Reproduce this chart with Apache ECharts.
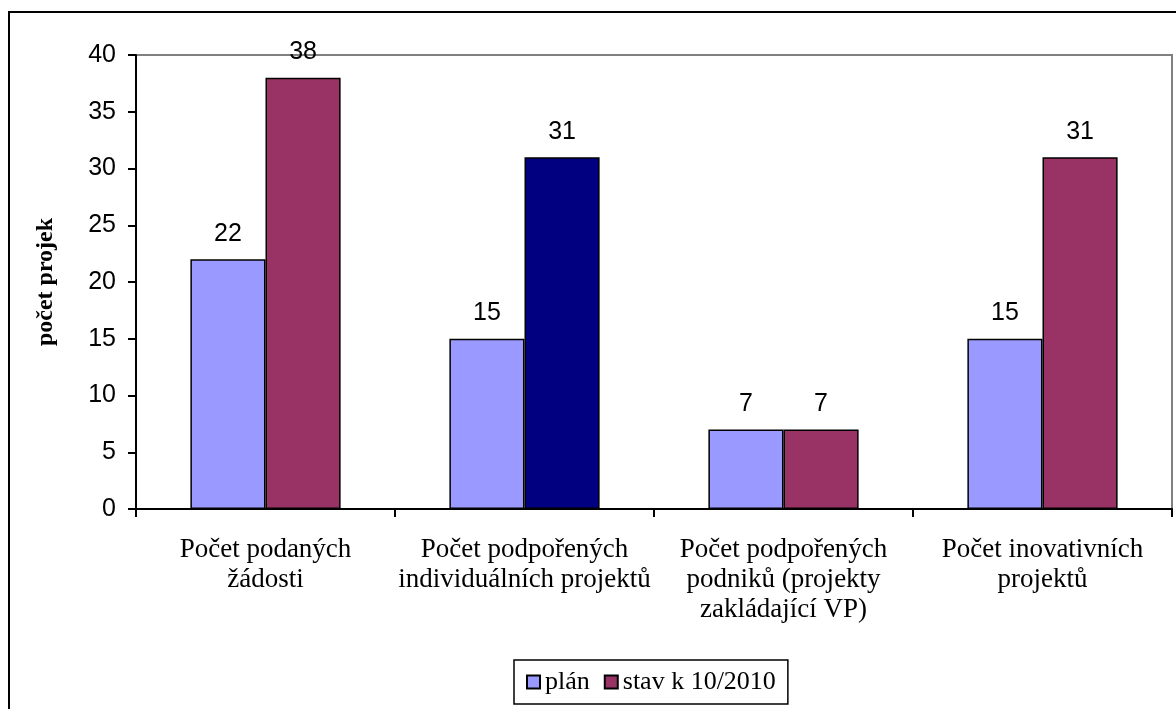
<!DOCTYPE html>
<html>
<head>
<meta charset="utf-8">
<script src="https://cdn.jsdelivr.net/npm/echarts@6/dist/echarts.min.js"></script>
<style>
  html, body { margin: 0; padding: 0; background: #fff; }
  #box { width: 1176px; height: 709px; }
</style>
</head>
<body>
<div id="box"></div>
<script>
// data
var categories = [
  "Počet podaných\nžádosti",
  "Počet podpořených\nindividuálních projektů",
  "Počet podpořených\npodniků (projekty\nzakládající VP)",
  "Počet inovativních\nprojektů"
];
var planValues = [22, 15, 7, 15];
var stavValues = [38, 31, 7, 31];
var stavColors = ["#993366", "#000080", "#993366", "#993366"];
var yTicks = { min: 0, max: 40, interval: 5 };

var serif = "'Liberation Serif', 'Times New Roman', serif";
var sans = "'Liberation Sans', Arial, sans-serif";

var myChart = echarts.init(document.getElementById("box"));

var labelStyle = {
  show: true,
  position: "top",
  distance: 13,
  color: "#000",
  fontFamily: sans,
  fontSize: 25
};

var option = {
  backgroundColor: "#fff",
  animation: false,
  graphic: [
    {
      type: "rect",
      shape: { x: 9, y: 12, width: 1200, height: 760 },
      style: { fill: "none", stroke: "#000", lineWidth: 2 },
      z: 100
    }
  ],
  grid: {
    left: 136, top: 55, right: 4, bottom: 200,
    show: true, borderColor: "#808080", borderWidth: 2, backgroundColor: "transparent"
  },
  legend: {
    data: ["plán", "stav k 10/2010"],
    left: 514,
    top: 660,
    padding: [9, 12, 9, 12],
    itemGap: 14,
    itemWidth: 13,
    itemHeight: 13,
    icon: "rect",
    borderColor: "#000",
    borderWidth: 1.5,
    textStyle: { fontFamily: serif, fontSize: 26, color: "#000" }
  },
  xAxis: {
    type: "category",
    data: categories,
    axisLine: { lineStyle: { color: "#000", width: 2 } },
    axisTick: { show: true, length: 8, lineStyle: { color: "#000", width: 2 } },
    axisLabel: {
      interval: 0,
      margin: 26,
      color: "#000",
      fontFamily: serif,
      fontSize: 27,
      lineHeight: 30
    }
  },
  yAxis: {
    type: "value",
    min: yTicks.min,
    max: yTicks.max,
    interval: yTicks.interval,
    name: "počet projek",
    nameLocation: "middle",
    nameGap: 78,
    nameRotate: 90,
    nameTextStyle: { fontFamily: serif, fontSize: 24, fontWeight: "bold", color: "#000" },
    axisLine: { show: true, lineStyle: { color: "#000", width: 2 } },
    axisTick: { show: true, length: 8, lineStyle: { color: "#000", width: 2 } },
    splitLine: { show: false },
    axisLabel: { margin: 20, color: "#000", fontFamily: sans, fontSize: 25 }
  },
  series: [
    {
      name: "plán",
      type: "bar",
      data: planValues,
      barGap: "0%",
      barCategoryGap: "42%",
      itemStyle: { color: "#9999FF", borderColor: "#000", borderWidth: 1.5 },
      label: labelStyle
    },
    {
      name: "stav k 10/2010",
      type: "bar",
      data: stavValues.map(function (v, i) {
        return { value: v, itemStyle: { color: stavColors[i] } };
      }),
      barGap: "0%",
      barCategoryGap: "42%",
      itemStyle: { color: "#993366", borderColor: "#000", borderWidth: 1.5 },
      label: labelStyle
    }
  ]
};

myChart.setOption(option);
</script>
</body>
</html>
